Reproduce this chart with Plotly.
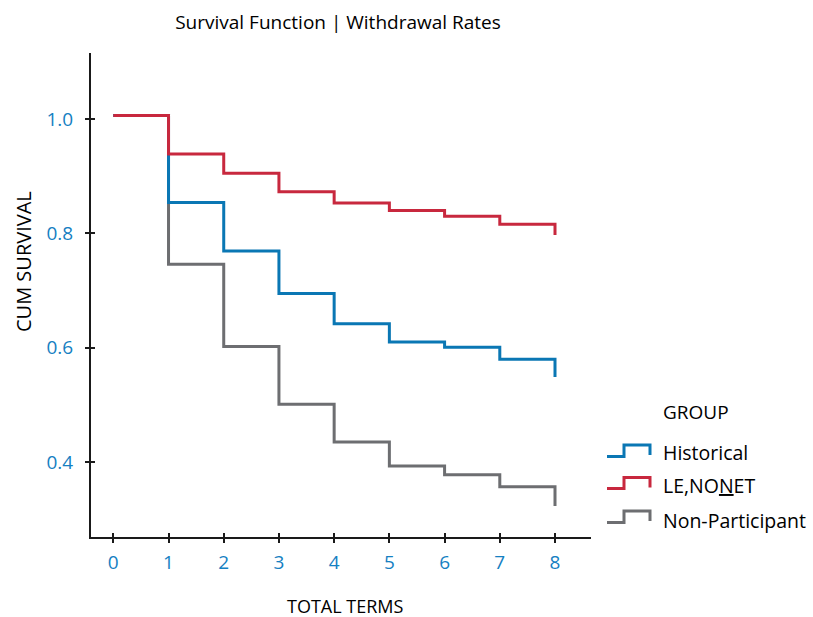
import plotly.graph_objects as go

# Kaplan-Meier style survival estimates by term (step drawn after each term)
terms = [0, 1, 2, 3, 4, 5, 6, 7, 8]
historical = [1.006, 0.854, 0.769, 0.695, 0.642, 0.610, 0.601, 0.580, 0.549]
le_nonet = [1.006, 0.939, 0.905, 0.873, 0.853, 0.840, 0.830, 0.816, 0.797]
non_participant = [1.006, 0.746, 0.602, 0.501, 0.435, 0.393, 0.378, 0.357, 0.323]

group_names = ["Historical", "LE,NO<u>N</u>ET", "Non-Participant"]
group_colors = ["#0a77b4", "#c8283e", "#6d6e71"]
series = [historical, le_nonet, non_participant]

x_ticks = [0, 1, 2, 3, 4, 5, 6, 7, 8]
y_ticks = [0.4, 0.6, 0.8, 1.0]

FONT = "Open Sans"
TICK_BLUE = "#1580c2"
AXIS_COL = "#1a1a1a"

# plot area geometry in pixels (used for the hand-built legend and titles)
W, H = 813, 617
ML, MR, MT, MB = 91, 222, 53, 80
PW, PH = W - ML - MR, H - MT - MB


def px(xp):
    return (xp - ML) / PW


def py(yp):
    return (H - MB - yp) / PH


fig = go.Figure()

# draw grey first, red last so the upper curves sit on top
for idx in [2, 0, 1]:
    fig.add_trace(go.Scatter(
        x=terms, y=series[idx], mode="lines",
        line=dict(shape="hv", color=group_colors[idx], width=3),
        name=group_names[idx], showlegend=False, hoverinfo="skip",
    ))

# helper trace so the overlay axes (inner half of the crossing ticks) render
fig.add_trace(go.Scatter(x=[None], y=[None], xaxis="x2", yaxis="y2",
                         showlegend=False, hoverinfo="skip"))

x_range = [-0.404, 8.652]
y_range = [0.269, 1.1155]

fig.update_layout(
    width=W, height=H,
    margin=dict(l=ML, r=MR, t=MT, b=MB),
    paper_bgcolor="white", plot_bgcolor="white",
    font=dict(family=FONT, color="black"),
    showlegend=False,
    title=dict(text="Survival Function | Withdrawal Rates",
               font=dict(size=19, family=FONT, color="black"),
               x=338 / W, xanchor="center", y=1 - 22 / H, yanchor="middle"),
    xaxis=dict(range=x_range, tickvals=x_ticks, ticktext=[str(v) for v in x_ticks],
               showline=True, linecolor=AXIS_COL, linewidth=2,
               ticks="outside", ticklen=4, tickwidth=2, tickcolor=AXIS_COL,
               showgrid=False, zeroline=False, ticklabelstandoff=3,
               tickfont=dict(size=19, color=TICK_BLUE, family=FONT)),
    yaxis=dict(range=y_range, tickvals=y_ticks, ticktext=[f"{v:.1f}" for v in y_ticks],
               showline=True, linecolor=AXIS_COL, linewidth=2,
               ticks="outside", ticklen=4, tickwidth=2, tickcolor=AXIS_COL,
               showgrid=False, zeroline=False, ticklabelstandoff=8,
               tickfont=dict(size=19, color=TICK_BLUE, family=FONT)),
    xaxis2=dict(range=x_range, overlaying="x", anchor="y", side="bottom",
                tickvals=x_ticks, showticklabels=False, ticks="inside", ticklen=4,
                tickwidth=2, tickcolor=AXIS_COL, showline=False, showgrid=False,
                zeroline=False),
    yaxis2=dict(range=y_range, overlaying="y", anchor="x", side="left",
                tickvals=y_ticks, showticklabels=False, ticks="inside", ticklen=4,
                tickwidth=2, tickcolor=AXIS_COL, showline=False, showgrid=False,
                zeroline=False),
)

# axis titles
fig.add_annotation(x=px(345), y=py(606), xref="paper", yref="paper",
                   text="TOTAL TERMS", showarrow=False, xanchor="center",
                   yanchor="middle", font=dict(size=18, color="black", family=FONT))
fig.add_annotation(x=px(23), y=py(262), xref="paper", yref="paper",
                   text="CUM SURVIVAL", showarrow=False, textangle=-90,
                   xanchor="center", yanchor="middle",
                   font=dict(size=20, color="black", family=FONT))

# legend: step-shaped keys with labels
legend_rows = [(456.5, 445.0, 455.0, 452.0),
               (488.5, 477.5, 487.5, 485.0),
               (522.5, 511.0, 521.0, 520.0)]
for i, (low, high, end, text_y) in enumerate(legend_rows):
    path = (f"M {px(607)},{py(low)} L {px(624)},{py(low)} L {px(624)},{py(high)} "
            f"L {px(650)},{py(high)} L {px(650)},{py(end)}")
    fig.add_shape(type="path", path=path, xref="paper", yref="paper",
                  line=dict(color=group_colors[i], width=3))
    fig.add_annotation(x=px(661), y=py(text_y), xref="paper", yref="paper",
                       text=group_names[i], showarrow=False, xanchor="left",
                       yanchor="middle", font=dict(size=19.5, color="black", family=FONT))

fig.add_annotation(x=px(661), y=py(412), xref="paper", yref="paper",
                   text="GROUP", showarrow=False, xanchor="left", yanchor="middle",
                   font=dict(size=19, color="black", family=FONT))

fig.write_html("out.html")
